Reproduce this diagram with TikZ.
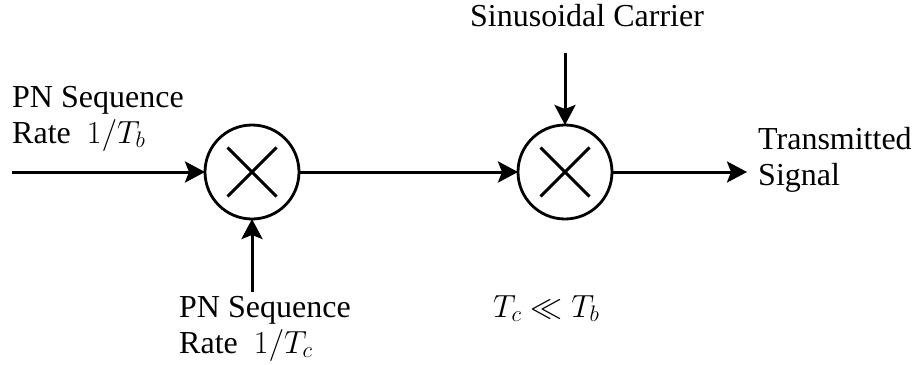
\documentclass[tikz,border=0pt]{standalone}
\usepackage{fix-cm}
\usepackage[no-math]{fontspec}
\setmainfont{Liberation Serif}
\usetikzlibrary{arrows.meta,calc}
\begin{document}
\begin{tikzpicture}[x=1pt,y=-1pt,
  lw/.style={line width=3pt},
  conn/.style={lw,-{Stealth[length=20pt,width=21pt,inset=4pt]}},
  mixer/.style={circle,draw,line width=2.8pt,inner sep=0pt,outer sep=0pt,minimum size=94pt},
  lbl/.style={anchor=base west,inner sep=0pt,font=\fontsize{32}{36}\selectfont}]
\useasboundingbox (0,0) rectangle (915,364);
\node[mixer] (m1) at (252,172) {};
\node[mixer] (m2) at (565,172) {};
\draw[lw] ($(m1)+(-24.5,-24.5)$) -- ($(m1)+(24.5,24.5)$);
\draw[lw] ($(m1)+(-24.5,24.5)$) -- ($(m1)+(24.5,-24.5)$);
\draw[lw] ($(m2)+(-24.5,-24.5)$) -- ($(m2)+(24.5,24.5)$);
\draw[lw] ($(m2)+(-24.5,24.5)$) -- ($(m2)+(24.5,-24.5)$);
\coordinate (in1) at (12,172);
\coordinate (in2) at (252,292);
\coordinate (car) at (565,53);
\coordinate (out) at (747,172);
\draw[conn] (in1) -- (m1.west);
\draw[conn] (in2) -- (m1.south);
\draw[conn] (m1.east) -- (m2.west);
\draw[conn] (car) -- (m2.north);
\draw[conn] (m2.east) -- (out);
\node[lbl] (t1a) at (12,107) {PN Sequence};
\node[lbl] (t1b) at (12,143) {Rate\ \ $1/T_b$};
\node[lbl] (t2a) at (179,317) {PN Sequence};
\node[lbl] (t2b) at (179,353) {Rate\ \ $1/T_c$};
\node[lbl] (t3) at (470,27) {Sinusoidal Carrier};
\node[lbl] (t4a) at (758,149) {Transmitted};
\node[lbl] (t4b) at (758,185) {Signal};
\node[lbl] (t5) at (493,317) {$T_c \ll T_b$};
\end{tikzpicture}
\end{document}
